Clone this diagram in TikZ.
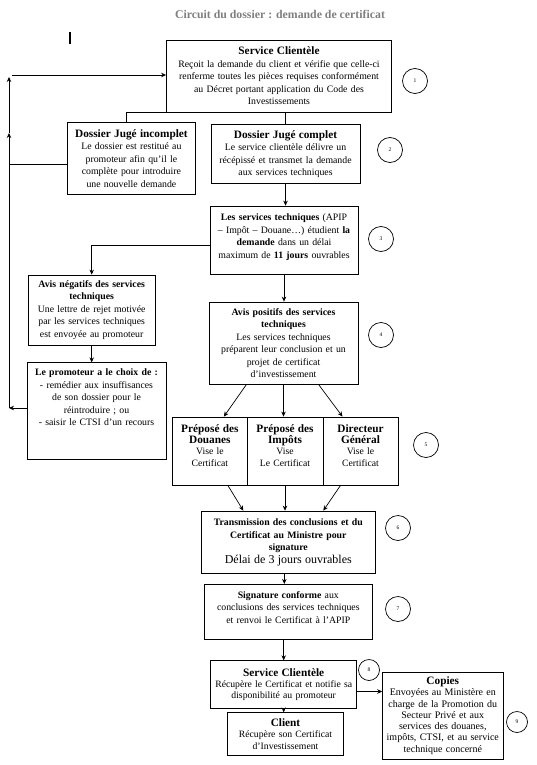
\documentclass[tikz,border=0pt]{standalone}
\usepackage{fontspec}
\setmainfont{Liberation Serif}
\usetikzlibrary{arrows.meta}
\definecolor{titregris}{RGB}{127,127,127}
\newcommand{\entete}[1]{{\fontsize{11.3}{12.5}\selectfont\bfseries #1}}
\tikzset{
  etape/.style={draw, line width=0.8pt, align=center, inner sep=2pt, font=\fontsize{9.8}{12.5}\selectfont},
  cambria/.style={font=\fontsize{9.7}{11.3}\selectfont},
  numero/.style={draw, circle, line width=0.7pt, minimum size=25pt, inner sep=0pt, font=\fontsize{5.5}{5.5}\selectfont},
  fleche/.style={-{Stealth[length=5pt,width=4.5pt]}, line width=0.7pt},
  trait/.style={line width=0.7pt}
}
\begin{document}
\begin{tikzpicture}[x=1pt, y=-1pt]
    \useasboundingbox (0,0) rectangle (536,765);
    \node[font=\fontsize{11.8}{13}\selectfont\bfseries, text=titregris] (titre) at (280,14) {Circuit du dossier : demande de certificat};
    \draw[line width=1.6pt] (70,32) -- (70,44);

    \node[etape, text width=221pt, minimum height=72pt] (sc1) at (279,76) {\entete{Service Clientèle}\\ Reçoit la demande du client et vérifie que celle-ci\\ renferme toutes les pièces requises conformément\\ au Décret portant application du Code des\\ Investissements};
    \node[etape, text width=123.3pt, minimum height=71.4pt] (incomplet) at (131.4,158.3) {\entete{Dossier Jugé incomplet}\\ Le dossier est restitué au\\ promoteur afin qu’il le\\ complète pour introduire\\ une nouvelle demande};
    \node[etape, text width=145pt, minimum height=58.3pt] (complet) at (285.5,154) {\entete{Dossier Jugé complet}\\ Le service clientèle délivre un\\ récépissé et transmet la demande\\ aux services techniques};
    \node[etape, text width=144pt, minimum height=68.5pt] (etude) at (284,240.3) {\textbf{Les services techniques} (APIP\\ – Impôt – Douane…) étudient \textbf{la}\\ \textbf{demande} dans un délai\\ maximum de \textbf{11 jours} ouvrables\\[-4.5pt]\mbox{}};
    \node[etape, text width=123.5pt, minimum height=70pt] (negatif) at (91.7,310) {\textbf{Avis négatifs des services}\\ \textbf{techniques}\\ Une lettre de rejet motivée\\ par les services techniques\\ est envoyée au promoteur};
    \node[etape, text width=145pt, minimum height=82pt] (positif) at (283.5,343) {\textbf{Avis positifs des services}\\ \textbf{techniques}\\ Les services techniques\\ préparent leur conclusion et un\\ projet de certificat\\ d’investissement};
    \node[etape, text width=135pt, minimum height=96.4pt] (promoteur) at (96.5,411) {\textbf{Le promoteur a le choix de :}\\ - remédier aux insuffisances\\ de son dossier pour le\\ réintroduire ; ou\\ - saisir le CTSI d’un recours\\[14.5pt]\mbox{}};

    % les trois visas
    \node[etape, cambria, text width=70.3pt, minimum height=68pt] (douanes) at (209.85,451) {\entete{Préposé des}\\ \entete{Douanes}\\ Vise le\\ Certificat\\ \mbox{}};
    \node[etape, cambria, text width=72pt, minimum height=68pt] (impots) at (285,451) {\entete{Préposé des}\\ \entete{Impôts}\\ Vise\\ Le Certificat\\ \mbox{}};
    \node[etape, cambria, text width=71pt, minimum height=68pt] (dg) at (360.5,451) {\entete{Directeur}\\ \entete{Général}\\ Vise le\\ Certificat\\ \mbox{}};

    \node[etape, text width=169.3pt, minimum height=62.3pt] (transmission) at (288.3,542.2) {\textbf{Transmission des conclusions et du}\\ \textbf{Certificat au Ministre pour}\\ \textbf{signature}\\ {\fontsize{12}{12.5}\selectfont Délai de 3 jours ouvrables}};
    \node[etape, text width=164.7pt, minimum height=54.7pt] (signature) at (288.3,611.7) {\textbf{Signature conforme} aux\\ conclusions des services techniques\\ et renvoi le Certificat à l’APIP\\[-3.5pt]\mbox{}};
    \node[etape, cambria, text width=142pt, minimum height=47.6pt] (sc2) at (283.7,684.5) {\entete{Service Clientèle}\\ Récupère le Certificat et notifie sa\\ disponibilité au promoteur};
    \node[etape, cambria, text width=111.6pt, minimum height=42.3pt] (client) at (285.5,733.9) {\entete{Client}\\ Récupère son Certificat\\ d’Investissement};
    \node[etape, cambria, font=\fontsize{10}{11.3}\selectfont, text width=116.3pt, minimum height=87pt] (copies) at (442.8,715.5) {\entete{Copies}\\ Envoyées au Ministère en\\ charge de la Promotion du\\ Secteur Privé et aux\\ services des douanes,\\ impôts, CTSI, et au service\\ technique concerné};

    % numeros des etapes
    \node[numero] (n1) at (415,81) {1};
    \node[numero] (n2) at (390,150) {2};
    \node[numero] (n3) at (381,239) {3};
    \node[numero] (n4) at (381,335) {4};
    \node[numero] (n5) at (426,445) {5};
    \node[numero] (n6) at (398,528) {6};
    \node[numero] (n7) at (398,609) {7};
    \node[numero, minimum size=21pt] (n8) at (369,670) {8};
    \node[numero, minimum size=21pt] (n9) at (517,722) {9};

    % retour vers le service clientele
    \coordinate (retour) at (9,408);
    \coordinate (coude) at (9,164);
    \coordinate (milieu) at (9,133);
    \coordinate (haut) at (9,77);
    \coordinate (depart) at (12,75);
    \coordinate (sortie) at ([yshift=-7pt]sc2.east);
    \draw[fleche] (promoteur.west |- retour) -- (retour);
    \draw[trait] (retour) -- (coude);
    \draw[fleche] (incomplet.west |- coude) -- (coude) -- (milieu);
    \draw[fleche] (milieu) -- (haut);
    \draw[fleche] (depart) -- (sc1.west |- depart);

    \draw[trait] (sc1.south west) -| ([xshift=-5pt]incomplet.north);
    \draw[trait] (sc1.south -| complet.north) -- (complet.north);
    \draw[fleche] (complet.south) -- (complet.south |- etude.north);
    \draw[fleche] ([yshift=-5pt]etude.west) -| (negatif.north);
    \draw[fleche] (etude.south) -- (etude.south |- positif.north);
    \draw[fleche] (negatif.south) -- (negatif.south |- promoteur.north);
    \draw[fleche] ([xshift=-37pt]positif.south) -- ([xshift=14pt]douanes.north);
    \draw[fleche] (positif.south) -- (positif.south |- impots.north);
    \draw[fleche] ([xshift=35pt]positif.south) -- ([xshift=-18pt]dg.north);
    \draw[fleche] ([xshift=18pt]douanes.south) -- ([xshift=-45pt]transmission.north);
    \draw[fleche] (impots.south) -- (impots.south |- transmission.north);
    \draw[fleche] ([xshift=-20pt]dg.south) -- ([xshift=35pt]transmission.north);
    \draw[fleche] ([xshift=-4pt]transmission.south) -- ([xshift=-4pt]transmission.south |- signature.north);
    \draw[fleche] (sc2.north |- signature.south) -- (sc2.north);
    \draw[fleche] (sortie) -- (copies.west |- sortie);
    \draw[fleche] (sc2.south) -- (sc2.south |- client.north);
\end{tikzpicture}
\end{document}
